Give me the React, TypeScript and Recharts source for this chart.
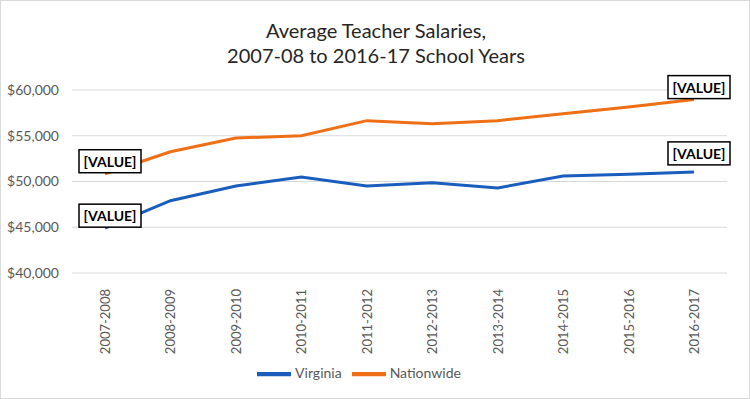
import React from "react";
import {
  LineChart,
  Line,
  XAxis,
  YAxis,
  CartesianGrid,
  Legend,
} from "recharts";

const years = [
  "2007-2008",
  "2008-2009",
  "2009-2010",
  "2010-2011",
  "2011-2012",
  "2012-2013",
  "2013-2014",
  "2014-2015",
  "2015-2016",
  "2016-2017",
];
const virginia = [44900, 47900, 49500, 50500, 49500, 49850, 49300, 50600, 50800, 51050];
const nationwide = [50850, 53250, 54750, 55000, 56650, 56300, 56650, 57400, 58150, 58950];
const yTicks = [40000, 45000, 50000, 55000, 60000];
const seriesOrder = ["Virginia", "Nationwide"];

const data = years.map((year, i) => ({
  year,
  virginia: virginia[i],
  nationwide: nationwide[i],
}));

const FONT = "Lato, 'Open Sans', sans-serif";
const BLUE = "#1a5dbd";
const ORANGE = "#ee6f15";

const XTick = ({ x, y, payload }: any) => (
  <text
    x={0}
    y={0}
    transform={`translate(${x + 5},${y + 8}) rotate(-90)`}
    textAnchor="end"
    fontSize={13}
    fill="#595959"
    fontFamily={FONT}
  >
    {payload.value}
  </text>
);

// boxed "[VALUE]" callouts on first and last points only
const makeValueLabel = (lift: number[]) => (props: any) => {
  const { x, y, index } = props;
  if (index !== 0 && index !== years.length - 1) return null;
  const w = 62;
  const h = 23;
  const bottom = y - lift[index === 0 ? 0 : 1];
  return (
    <g>
      <rect
        x={x - 26}
        y={bottom - h}
        width={w}
        height={h}
        fill="#fff"
        stroke="#000"
        strokeWidth={1.5}
      />
      <text
        x={x - 26 + w / 2}
        y={bottom - 6}
        textAnchor="middle"
        fontSize={14}
        fontWeight={700}
        fill="#000"
        fontFamily={FONT}
      >
        [VALUE]
      </text>
    </g>
  );
};

export default function App() {
  return (
    <div
      style={{
        width: 750,
        height: 399,
        position: "relative",
        boxSizing: "border-box",
        border: "1px solid #d9d9d9",
        background: "#fff",
        fontFamily: FONT,
      }}
    >
      <style>{`body{margin:0}`}</style>
      <div
        style={{
          position: "absolute",
          top: 17,
          left: 0,
          width: 750,
          textAlign: "center",
          fontSize: 20,
          lineHeight: "25px",
          color: "#262626",
        }}
      >
        Average Teacher Salaries,
        <br />
        2007-08 to 2016-17 School Years
      </div>
      <LineChart
        width={748}
        height={397}
        data={data}
        margin={{ top: 89, right: 22, left: 0, bottom: 7 }}
      >
        <CartesianGrid vertical={false} stroke="#d9d9d9" />
        <XAxis
          dataKey="year"
          axisLine={false}
          tickLine={false}
          interval={0}
          height={84}
          padding={{ left: 33, right: 33 }}
          tick={<XTick />}
        />
        <YAxis
          domain={[40000, 60000]}
          ticks={yTicks}
          axisLine={false}
          tickLine={false}
          width={71}
          tick={{ fontSize: 14, fill: "#595959", fontFamily: FONT, dx: -5 }}
          tickFormatter={(v: number) => `$${v.toLocaleString("en-US")}`}
        />
        <Legend
          verticalAlign="bottom"
          iconType="plainline"
          iconSize={34}
          itemSorter={(item: any) => seriesOrder.indexOf(item.value)}
          wrapperStyle={{ fontSize: 14, color: "#595959", fontFamily: FONT }}
          formatter={(value: string) => <span style={{ color: "#595959" }}>{value}</span>}
        />
        <Line
          dataKey="virginia"
          name="Virginia"
          stroke={BLUE}
          strokeWidth={3}
          dot={false}
          isAnimationActive={false}
          label={makeValueLabel([1, 7])}
        />
        <Line
          dataKey="nationwide"
          name="Nationwide"
          stroke={ORANGE}
          strokeWidth={3}
          dot={false}
          isAnimationActive={false}
          label={makeValueLabel([1, 1])}
        />
      </LineChart>
    </div>
  );
}
